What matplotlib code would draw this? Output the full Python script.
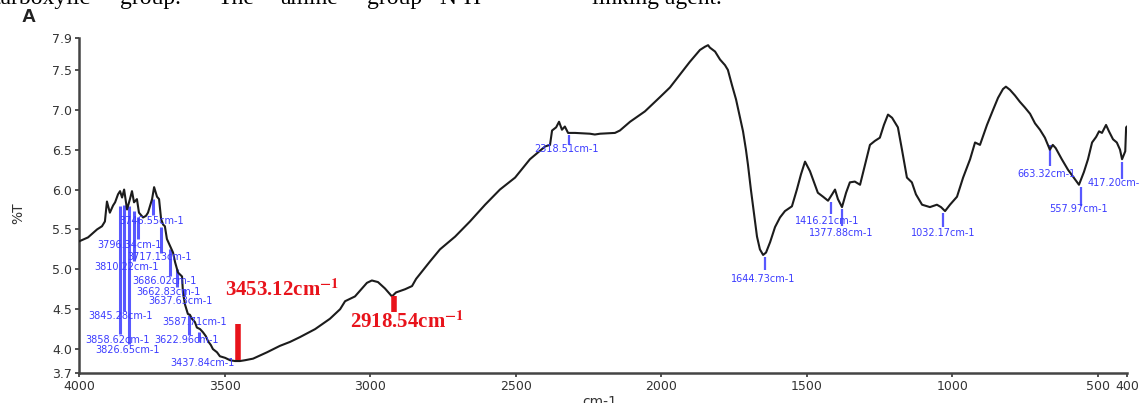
import matplotlib
matplotlib.use("Agg")
import matplotlib.pyplot as plt

plt.rcParams["mathtext.fontset"] = "stix"

# FTIR spectrum: wavenumber (cm-1) and transmittance (%T)
wavenumber = [
    4000, 3969, 3938, 3921, 3911, 3904, 3894, 3883, 3876, 3866, 3859, 3852, 3845,
    3835, 3825, 3818, 3811, 3801, 3794, 3780, 3770, 3763, 3749, 3742, 3732, 3725,
    3718, 3711, 3705, 3698, 3687, 3677, 3670, 3660, 3646, 3643, 3636, 3626, 3619,
    3612, 3602, 3595, 3584, 3574, 3564, 3557, 3547, 3540, 3526, 3516, 3498, 3481,
    3464, 3447, 3430, 3402, 3354, 3310, 3275, 3241, 3189, 3138, 3103, 3086, 3052,
    3035, 3011, 2994, 2973, 2949, 2932, 2925, 2911, 2880, 2856, 2842, 2829, 2794,
    2760, 2708, 2657, 2605, 2554, 2502, 2451, 2399, 2382, 2375, 2361, 2351, 2341,
    2331, 2320, 2296, 2245, 2228, 2210, 2159, 2142, 2107, 2056, 2004, 1970, 1936,
    1902, 1867, 1850, 1839, 1833, 1815, 1798, 1781, 1771, 1757, 1743, 1729, 1719,
    1709, 1702, 1692, 1681, 1671, 1661, 1650, 1640, 1626, 1609, 1592, 1575, 1551,
    1534, 1520, 1506, 1489, 1479, 1462, 1444, 1427, 1413, 1403, 1393, 1379, 1365,
    1352, 1335, 1317, 1300, 1283, 1266, 1249, 1235, 1221, 1207, 1187, 1173, 1156,
    1139, 1125, 1104, 1077, 1053, 1039, 1025, 1008, 984, 963, 939, 922, 905, 881,
    860, 843, 826, 816, 802, 785, 768, 751, 733, 716, 699, 682, 672, 665, 655,
    645, 624, 603, 583, 565, 548, 534, 520, 506, 496, 486, 472, 462, 448, 435,
    424, 417, 406, 403, 400,
]
transmittance = [
    5.35, 5.40, 5.50, 5.54, 5.60, 5.85, 5.71, 5.80, 5.84, 5.94, 5.98, 5.90, 6.00,
    5.75, 5.88, 5.98, 5.84, 5.88, 5.71, 5.65, 5.67, 5.71, 5.88, 6.03, 5.91, 5.88,
    5.63, 5.56, 5.54, 5.38, 5.29, 5.21, 5.09, 4.96, 4.91, 4.71, 4.56, 4.44, 4.43,
    4.38, 4.34, 4.27, 4.25, 4.21, 4.16, 4.10, 4.05, 4.00, 3.96, 3.91, 3.89, 3.86,
    3.85, 3.85, 3.86, 3.88, 3.96, 4.04, 4.09, 4.15, 4.25, 4.38, 4.50, 4.60, 4.66,
    4.73, 4.83, 4.86, 4.84, 4.76, 4.69, 4.66, 4.71, 4.75, 4.79, 4.88, 4.94, 5.10,
    5.25, 5.41, 5.60, 5.81, 6.00, 6.15, 6.38, 6.54, 6.56, 6.74, 6.78, 6.85, 6.75,
    6.79, 6.71, 6.71, 6.70, 6.69, 6.70, 6.71, 6.74, 6.85, 6.98, 7.16, 7.28, 7.44,
    7.60, 7.75, 7.79, 7.81, 7.78, 7.73, 7.63, 7.56, 7.50, 7.31, 7.13, 6.90, 6.73,
    6.50, 6.31, 6.00, 5.69, 5.41, 5.25, 5.18, 5.21, 5.34, 5.53, 5.65, 5.73, 5.79,
    6.00, 6.19, 6.35, 6.23, 6.13, 5.96, 5.91, 5.86, 5.94, 6.00, 5.88, 5.78, 5.96,
    6.09, 6.10, 6.06, 6.31, 6.56, 6.61, 6.65, 6.81, 6.94, 6.90, 6.78, 6.50, 6.15,
    6.09, 5.94, 5.81, 5.78, 5.81, 5.78, 5.73, 5.81, 5.91, 6.15, 6.38, 6.59, 6.56,
    6.81, 7.00, 7.15, 7.26, 7.29, 7.25, 7.18, 7.10, 7.03, 6.95, 6.83, 6.75, 6.65,
    6.56, 6.50, 6.56, 6.52, 6.38, 6.25, 6.15, 6.06, 6.22, 6.38, 6.59, 6.66, 6.73,
    6.71, 6.81, 6.73, 6.63, 6.59, 6.50, 6.38, 6.48, 6.78, 6.79,
]

# Peaks picked by the instrument software
peak_wn = [3858.62, 3845.28, 3826.65, 3810.22, 3796.34, 3746.55, 3717.13,
           3686.02, 3662.83, 3637.63, 3622.96, 3587.71, 3437.84, 2318.51,
           1644.73, 1416.21, 1377.88, 1032.17, 663.32, 557.97, 417.20]

# Highlighted bands
band_wn = [3453.12, 2918.54]

x_ticks = [4000, 3500, 3000, 2500, 2000, 1500, 1000, 500, 400]
y_ticks = [3.7, 4.0, 4.5, 5.0, 5.5, 6.0, 6.5, 7.0, 7.5, 7.9]
y_ticklabels = ["3.7", "4.0", "4.5", "5.0", "5.5", "6.0", "6.5", "7.0", "7.5", "7.9"]

# marker line extents (top, bottom in %T) and label anchors (wn, %T, align)
peak_line = [(5.79, 4.19), (5.81, 4.48), (5.79, 4.06), (5.73, 5.10), (5.65, 5.38),
             (5.88, 5.68), (5.53, 5.21), (5.25, 4.91), (5.00, 4.78), (4.75, 4.66),
             (4.43, 4.18), (4.21, 4.09), None, (6.69, 6.56),
             (5.15, 4.99), (5.84, 5.69), (5.75, 5.54), (5.71, 5.53), (6.56, 6.29),
             (6.03, 5.80), (6.34, 6.13)]
peak_label_pos = [(3869, 4.11, "center"), (3856, 4.41, "center"), (3832, 3.99, "center"),
                  (3835, 5.03, "center"), (3825, 5.31, "center"), (3749, 5.61, "center"),
                  (3722, 5.15, "center"), (3705, 4.85, "center"), (3691, 4.71, "center"),
                  (3650, 4.60, "center"), (3629, 4.11, "center"), (3602, 4.34, "center"),
                  (3577, 3.83, "center"), (2327, 6.51, "center"), (1650, 4.88, "center"),
                  (1431, 5.61, "center"), (1383, 5.46, "center"), (1032, 5.46, "center"),
                  (675, 6.20, "center"), (568, 5.75, "center"), (534, 6.08, "left")]
band_bar = [(3.86, 4.31), (4.46, 4.66)]
band_label_pos = [(3303, 4.74), (2873, 4.34)]

fig = plt.figure(figsize=(11.39, 4.03), dpi=100)
ax = fig.add_axes([79 / 1139, 1 - 373 / 403, (1127 - 79) / 1139, (373 - 38) / 403])

ax.plot(wavenumber, transmittance, color="#1c1c1c", lw=1.5, zorder=3)

blue = "#3b3bff"
for i, wn in enumerate(peak_wn):
    seg = peak_line[i]
    if seg is not None:
        lw = 2.2 if wn > 3500 else 1.6
        ax.plot([wn, wn], seg, color=blue, lw=lw, alpha=0.85, zorder=2,
                solid_capstyle="butt")
    lx, ly, ha = peak_label_pos[i]
    ax.text(lx, ly, f"{wn:.2f}cm-1", color=blue, fontsize=7, ha=ha,
            va="center", clip_on=False, zorder=4)

red = "#e8131b"
for i, wn in enumerate(band_wn):
    ax.plot([wn, wn], band_bar[i], color=red, lw=4.0, solid_capstyle="butt", zorder=4)
    lx, ly = band_label_pos[i]
    ax.text(lx, ly, f"{wn:.2f}cm" + r"$^{\mathbf{-1}}$", color=red, fontsize=15,
            fontweight="bold", family="Liberation Serif", ha="center", va="center",
            zorder=5)

ax.set_xlim(4000, 400)
ax.set_ylim(3.7, 7.9)
ax.set_xticks(x_ticks)
ax.set_xticklabels([str(t) for t in x_ticks])
ax.set_yticks(y_ticks)
ax.set_yticklabels(y_ticklabels)
ax.tick_params(axis="both", labelsize=9, colors="#333333", length=3, width=1.2, pad=2)
for side in ("top", "right"):
    ax.spines[side].set_visible(False)
for side in ("left", "bottom"):
    ax.spines[side].set_color("#444444")
    ax.spines[side].set_linewidth(1.8)

fig.text(18 / 1139, 1 - 213 / 403, "%T", rotation=90, fontsize=10, color="#333333",
         ha="center", va="center")
fig.text(600 / 1139, 1 - 402 / 403, "cm-1", fontsize=10, color="#333333",
         ha="center", va="center")
fig.text(22 / 1139, 1 - 18 / 403, "A", fontsize=14, fontweight="bold",
         family="Liberation Sans", color="#222222", ha="left", va="center")

# running text of the page above the figure
words = [("carboxylic", -10), ("group.", 120), ("The", 218), ("amine", 280),
         ("group", 367), ("N-H", 439), ("linking agent.", 592)]
for w, px in words:
    fig.text(px / 1139, 1 - 4 / 403, w, fontsize=17, family="Liberation Serif",
             color="black", ha="left", va="baseline")

fig.savefig("out.png", dpi=100)
